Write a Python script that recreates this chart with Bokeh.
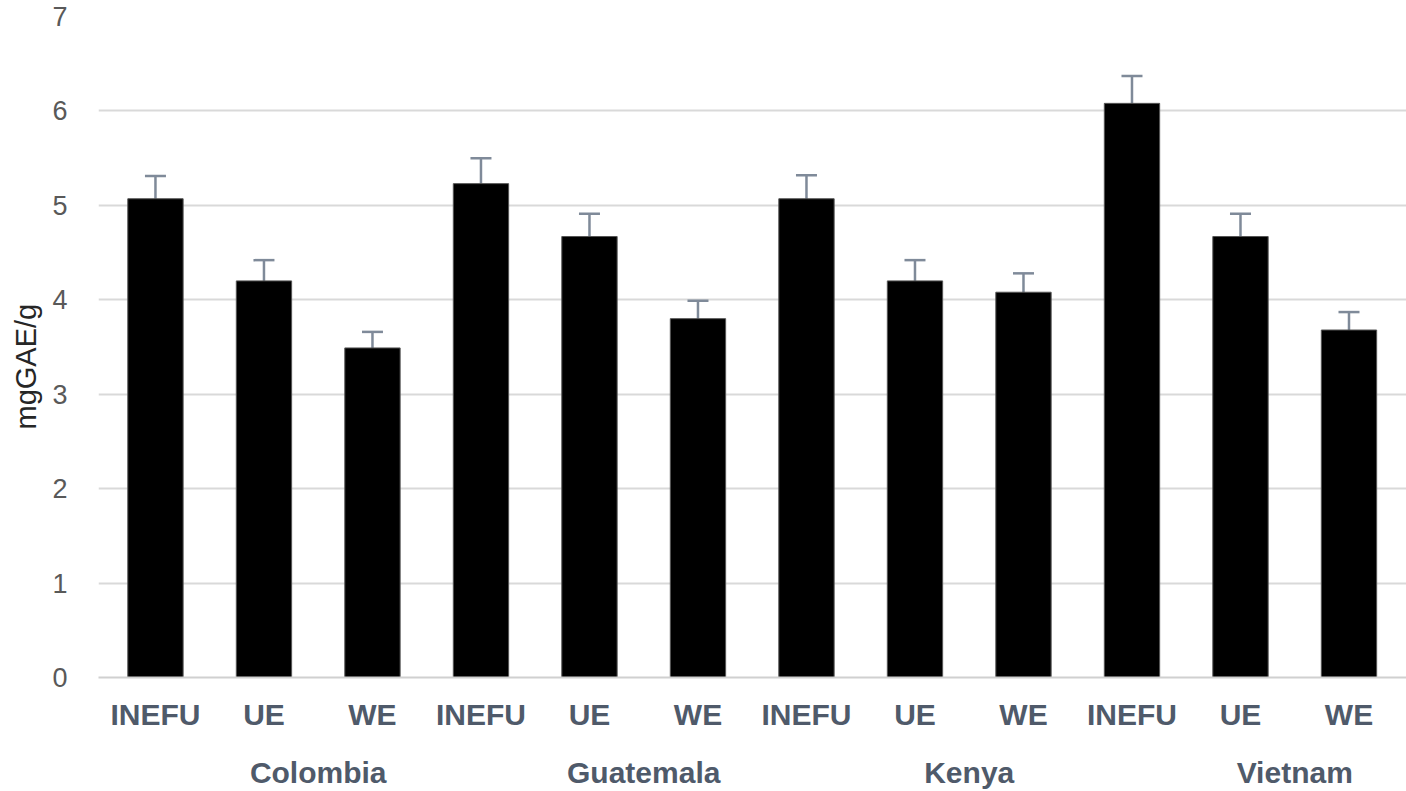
from bokeh.plotting import figure
from bokeh.models import (ColumnDataSource, Range1d, FixedTicker, LinearAxis,
                          Whisker, TeeHead, Title)
from bokeh.embed import file_html
from bokeh.resources import INLINE

# ---- data ----
countries = ["Colombia", "Guatemala", "Kenya", "Vietnam"]
extracts = ["INEFU", "UE", "WE"]
values = [5.07, 4.20, 3.49,
          5.23, 4.67, 3.80,
          5.07, 4.20, 4.08,
          6.08, 4.67, 3.68]
errors = [0.24, 0.22, 0.17,
          0.27, 0.24, 0.19,
          0.25, 0.22, 0.20,
          0.29, 0.24, 0.19]
y_ticks = [0, 1, 2, 3, 4, 5, 6, 7]
y_title = "mgGAE/g"

n_sub = len(extracts)
xs = list(range(len(values)))
sub_labels = [extracts[i % n_sub] for i in xs]

src = ColumnDataSource(dict(
    x=xs, top=values,
    upper=[v + e for v, e in zip(values, errors)],
    lower=[v - e for v, e in zip(values, errors)],
))

# country label positions: between the 2nd and 3rd bar of each group (as in the original)
country_x = [g * n_sub + 1.5 for g in range(len(countries))]

FONT = "Liberation Sans"
LABEL_COLOR = "#4f5a6a"

p = figure(width=1406, height=791, output_backend="svg", toolbar_location=None,
           x_range=Range1d(-0.525, 11.53), y_range=Range1d(0, 7),
           x_axis_location=None, min_border_left=98, min_border_right=0,
           min_border_top=16, min_border_bottom=114)
p.outline_line_color = None
p.background_fill_color = "white"
p.border_fill_color = "white"

# grid
p.xgrid.grid_line_color = None
p.ygrid.grid_line_color = "#d9d9d9"
p.ygrid.grid_line_width = 2
p.ygrid.ticker = FixedTicker(ticks=y_ticks)

# bars
p.vbar(x="x", top="top", width=0.51, source=src, fill_color="black",
       line_color="#555555", line_width=1)

# error bars
err_color = "#7f8a99"
w = Whisker(source=src, base="x", upper="upper", lower="lower",
            line_color=err_color, line_width=2.5,
            upper_head=TeeHead(size=21, line_color=err_color, line_width=2.5),
            lower_head=TeeHead(size=21, line_color=err_color, line_width=2.5))
p.add_layout(w)

# y axis
ya = p.yaxis[0]
ya.ticker = FixedTicker(ticks=y_ticks)
ya.axis_line_color = None
ya.major_tick_line_color = None
ya.minor_tick_line_color = None
ya.major_tick_out = 0
ya.minor_tick_out = 0
ya.major_label_text_font = FONT
ya.major_label_text_font_size = "27px"
ya.major_label_text_color = "#595959"
ya.major_label_standoff = 31

# y axis title (placed slightly below the centre, as in the original)
p.add_layout(Title(text=y_title, align="left", offset=248, standoff=15,
                   text_font=FONT, text_font_style="normal",
                   text_font_size="29px", text_color="#262626"), "left")

# x axis (sub-category labels)
xa = LinearAxis(ticker=FixedTicker(ticks=xs),
                major_label_overrides={i: s for i, s in zip(xs, sub_labels)})
xa.axis_line_color = "#d0d0d0"
xa.axis_line_width = 2
xa.major_tick_line_color = None
xa.minor_tick_line_color = None
xa.major_tick_out = 0
xa.minor_tick_out = 0
xa.major_label_text_font = FONT
xa.major_label_text_font_style = "bold"
xa.major_label_text_font_size = "30px"
xa.major_label_text_color = LABEL_COLOR
xa.major_label_standoff = 20
p.add_layout(xa, "below")

# second x axis (country labels)
ca = LinearAxis(ticker=FixedTicker(ticks=country_x),
                major_label_overrides={x: c for x, c in zip(country_x, countries)})
ca.axis_line_color = None
ca.major_tick_line_color = None
ca.minor_tick_line_color = None
ca.major_tick_out = 0
ca.minor_tick_out = 0
ca.major_label_text_font = FONT
ca.major_label_text_font_style = "bold"
ca.major_label_text_font_size = "30px"
ca.major_label_text_color = LABEL_COLOR
ca.major_label_standoff = 22
p.add_layout(ca, "below")

open("out.html", "w").write(file_html(p, INLINE))
